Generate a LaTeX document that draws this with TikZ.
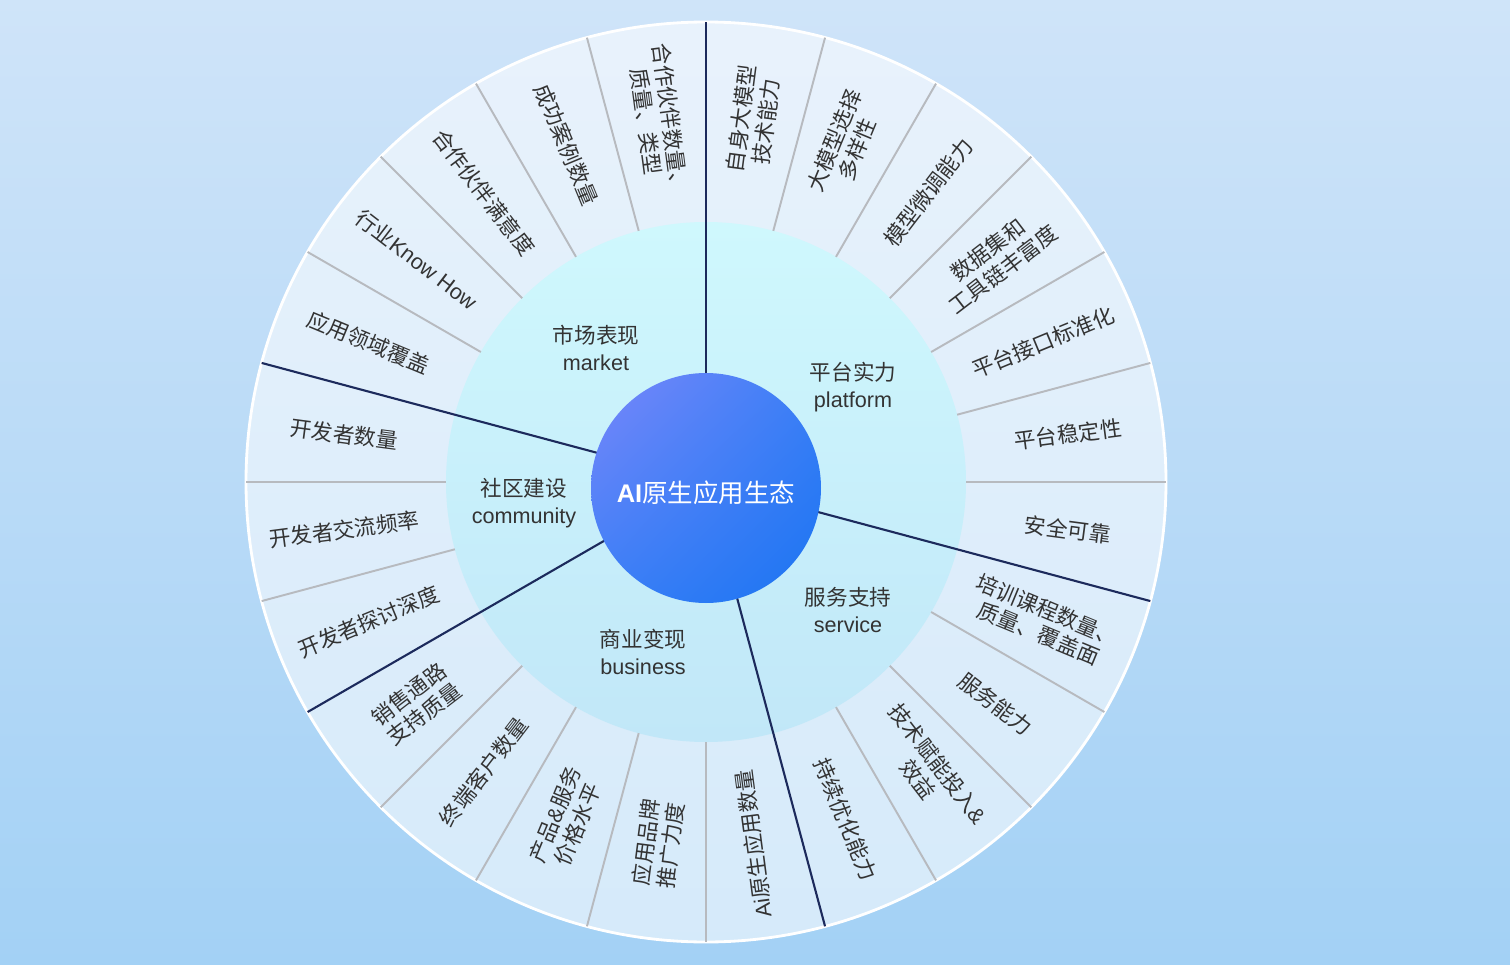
\documentclass[tikz,border=0pt]{standalone}
\usepackage{fontspec}
\setmainfont{Noto Sans CJK SC}
\newfontfamily\latinfont{Liberation Sans}
\usetikzlibrary{calc,shadings}

\definecolor{bgtop}{HTML}{CFE4F9}
\definecolor{bgmid}{HTML}{DFEDFB}
\definecolor{bgbot}{HTML}{A3D1F5}
\definecolor{ringcyan}{HTML}{CFF8FD}
\definecolor{ringcyanlow}{HTML}{C1E7F8}
\definecolor{navy}{HTML}{1C2A5C}
\definecolor{divgray}{HTML}{B7BABF}
\definecolor{txtgray}{HTML}{333333}
\definecolor{hubhi}{HTML}{7A87FA}
\definecolor{hubmid}{HTML}{3A7FF6}
\definecolor{hublo}{HTML}{1B74F2}

\tikzset{
	item/.style={text=txtgray, align=center, inner sep=0pt, font=\fontsize{12.3}{14.2}\selectfont},
	sector/.style={text=txtgray, align=center, inner sep=0pt, font=\fontsize{12.3}{15.3}\selectfont},
	gapline/.style={line width=1.1pt, color=divgray},
	axisline/.style={line width=1.2pt, color=navy}
}

\begin{document}
\begin{tikzpicture}
			%%%%% START %%%%%
			
			\shade[top color=bgtop, middle color=bgmid, bottom color=bgbot] (-14.12, -9.64) rectangle (16.08, 9.64);
			\useasboundingbox (-14.12, -9.64) rectangle (16.08, 9.64);
			
			\fill[white, fill opacity=0.55] (0, 0) circle (9.2);
			\draw[white, line width=1.6pt] (0, 0) circle (9.2);
			\shade[top color=ringcyan, bottom color=ringcyanlow] (0, 0) circle (5.2);
			
			\foreach \a in {75,60,45,30,15,0,-30,-45,-60,-90,-105,-120,-135,-165,-180,150,135,120,105}
				\draw[gapline] (\a:5.2) -- (\a:9.2);
			\foreach \a in {90,-15,-75,-150,165}
				\draw[axisline] (0, 0) -- (\a:9.2);
			
			\shade[upper left=hubhi, upper right=hubmid, lower left=hubmid, lower right=hublo] (0, -0.12) circle (2.3);
			\node[text=white, font=\fontsize{14.5}{16}\selectfont] (hub) at (0, -0.22) {{\latinfont\bfseries AI}原生应用生态};
			
			\node[sector] (mkt) at (-2.2, 2.68) {市场表现\\{\latinfont market}};
			\node[sector] (plat) at (2.94, 1.9) {平台实力\\{\latinfont platform}};
			\node[sector] (serv) at (2.84, -2.56) {服务支持\\{\latinfont service}};
			\node[sector] (biz) at (-1.26, -3.4) {商业变现\\{\latinfont business}};
			\node[sector] (comm) at (-3.64, -0.42) {社区建设\\{\latinfont community}};
			
			\foreach \a/\r/\t [count=\n] in {
				82.5/82.5/{自身大模型\\技术能力},
				67.5/67.5/{大模型选择\\多样性},
				52.5/52.5/{模型微调能力},
				37.5/37.5/{数据集和\\工具链丰富度},
				22.5/22.5/{平台接口标准化},
				7.5/7.5/{平台稳定性},
				-7.5/-7.5/{安全可靠},
				-22.5/-22.5/{培训课程数量、\\质量、覆盖面},
				-37.5/-37.5/{服务能力},
				-52.5/-52.5/{技术赋能投入{\latinfont\&}\\效益},
				-67.5/-67.5/{持续优化能力},
				-82.5/97.5/{{\latinfont Ai}原生应用数量},
				-97.5/82.5/{应用品牌\\推广力度},
				-112.5/67.5/{产品{\latinfont\&}服务\\价格水平},
				-127.5/52.5/{终端客户数量},
				-142.5/37.5/{销售通路\\支持质量},
				-157.5/22.5/{开发者探讨深度},
				-172.5/7.5/{开发者交流频率},
				172.5/-7.5/{开发者数量},
				157.5/-22.5/{应用领域覆盖},
				142.5/-37.5/{行业{\latinfont Know How}},
				127.5/-52.5/{合作伙伴满意度},
				112.5/-67.5/{成功案例数量},
				97.5/-82.5/{合作伙伴数量、\\质量、类型}}
				\node[item, rotate=\r] (k\n) at (\a:7.3) {\t};
			
			%%%%% END %%%%%
\end{tikzpicture}
\end{document}
